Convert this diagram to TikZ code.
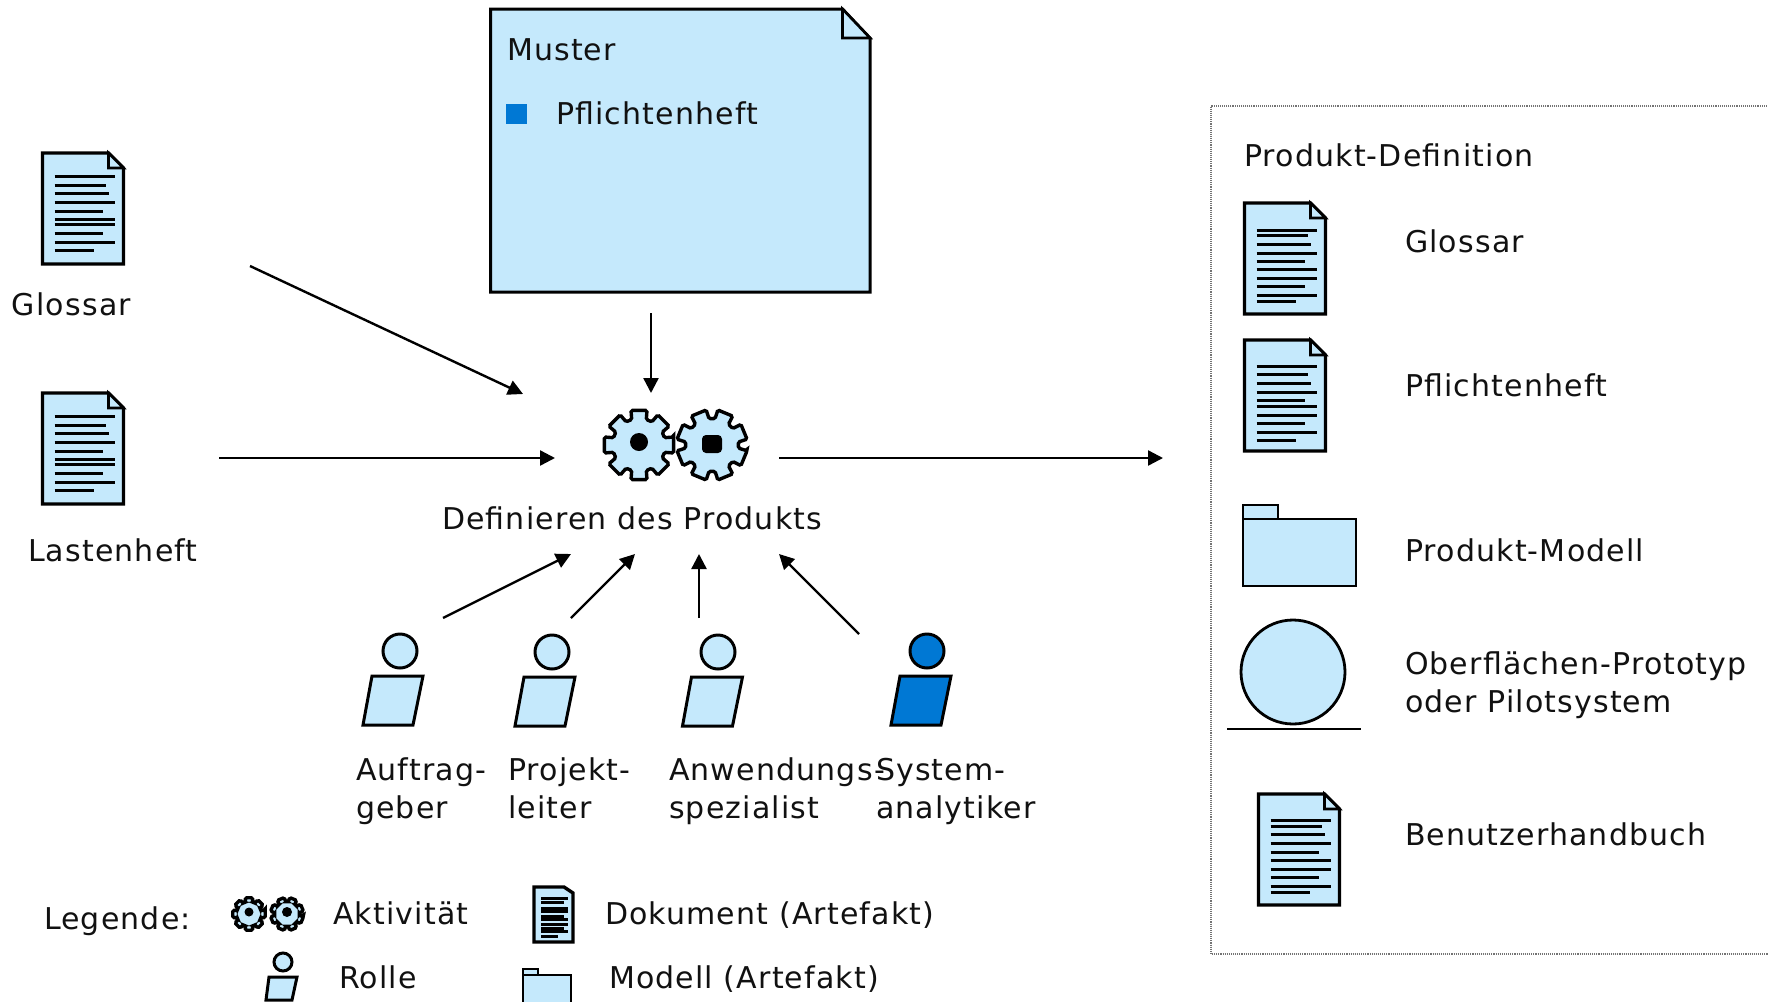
\documentclass[tikz,border=0pt]{standalone}
\usepackage{fontspec}
\setmainfont[LetterSpace=3.9]{DejaVu Sans}
\usetikzlibrary{arrows.meta}
\definecolor{lb}{HTML}{C5E9FC}
\definecolor{db}{HTML}{0078D4}
\definecolor{tx}{HTML}{111111}
\def\lLeft{23/72,32/63,40/66,49/72,58/60,66/72,71/72,80/60,89/72,97/51}
\def\lGl{27/72,32/63,41/66,50/72,58/60,66/72,75/72,83/60,92/72,98/51}
\def\lPf{26/72,34/63,43/66,52/72,60/60,66/72,75/72,83/60,92/72,100/51}
\def\lBh{26/72,32/63,40/66,49/72,58/60,66/72,75/72,83/60,92/72,98/51}
\tikzset{
  x=1pt,y=-1pt,
  lbl/.style={inner sep=0pt,outer sep=0pt,anchor=base west,align=left,text=tx,yshift=0.1pt,font=\fontsize{30}{38.5}\selectfont},
  ic/.style={draw=black,line width=3pt,fill=lb,line join=miter},
  arr/.style={draw=black,line width=2.4pt,-{Triangle[length=15pt,width=15pt]}},
  pics/docicon/.style={code={
    \path[ic,line width=3.2pt] (0,0) -- (66,0) -- (81,15) -- (81,111) -- (0,111) -- cycle;
    \path[ic,line width=2.6pt] (66,0) -- (66,15) -- (81,15) -- cycle;
    \foreach \yy/\ee in #1
      \draw[line width=3pt] (12,\yy) -- (\ee,\yy);
  }},
  pics/foldericon/.style={code={
    \path[ic,line width=2.2pt] (0,0) rectangle (35,14);
    \path[ic,line width=2.2pt] (0,14) rectangle (113,81);
  }},
  pics/rolebody/.style={code={
    \path[ic,fill=#1] (-28,25) -- (23,25) -- (13,74) -- (-37,74) -- cycle;
  }},
  pics/rolebody/.default=lb,
  pics/gearicon/.style={code={
    \path[ic,line width=3.4pt,rounded corners=1.5pt] (#1-13:35.5)
      \foreach \a in {0,45,...,315}{
        -- (\a+#1-13:35.5) -- (\a+#1+13:35.5) -- (\a+#1+16:26.5) -- (\a+#1+29:26.5)
      } -- cycle;
  }},
}
\begin{document}
\begin{tikzpicture}
\clip (0,0) rectangle (1768,1001);
\fill[white] (0,0) rectangle (1768,1001);

% Muster
\path[ic] (490.5,9) -- (842.5,9) -- (870,38) -- (870,292) -- (490.5,292) -- cycle;
\path[ic,line width=2.6pt] (842.5,9) -- (842.5,38) -- (870,38) -- cycle;
\node[lbl] (muster) at (507,61) {Muster};
\fill[db] (506,104) rectangle (527,124);
\node[lbl] (pfl) at (556,125) {Pflichtenheft};

% inputs
\pic at (42.5,153) {docicon=\lLeft};
\node[lbl] (glossar) at (12,316) {Glossar};
\pic at (42.5,393) {docicon=\lLeft};
\node[lbl] (lasten) at (28,562) {Lastenheft};

% activity
\pic at (639,445) {gearicon=0};
\fill (639,442) circle[radius=9];
\pic at (712,445) {gearicon=22.5};
\fill[rounded corners=4pt] (702,435) rectangle (722,453);
\node[lbl] (act) at (442,530) {Definieren des Produkts};

% roles
\path[ic] (400,651) circle[radius=17];
\pic at (400,651) {rolebody};
\path[ic] (552,652) circle[radius=17];
\pic at (552,652) {rolebody};
\path[ic] (718,652) circle[radius=17];
\pic at (719.5,652) {rolebody};
\path[ic,fill=db] (927,651) circle[radius=17];
\pic at (928,651) {rolebody=db};
\node[lbl] (r1) at (356,819) {Auftrag-\\geber};
\node[lbl] (r2) at (508,819) {Projekt-\\leiter};
\node[lbl] (r3) at (669,819) {Anwendungs-\\spezialist};
\node[lbl] (r4) at (876,819) {System-\\analytiker};

% arrows
\coordinate (a1s) at (250,266); \coordinate (a1e) at (523,394);
\coordinate (a2s) at (219,458); \coordinate (a2e) at (555,458);
\coordinate (a3s) at (651,313); \coordinate (a3e) at (651,393);
\coordinate (a4s) at (779,458); \coordinate (a4e) at (1163,458);
\coordinate (a5s) at (443,618); \coordinate (a5e) at (571,554);
\coordinate (a6s) at (571,618); \coordinate (a6e) at (635,554);
\coordinate (a7s) at (699,618); \coordinate (a7e) at (699,554);
\coordinate (a8s) at (859,634); \coordinate (a8e) at (779,554);
\foreach \k in {1,...,8} \draw[arr] (a\k s) -- (a\k e);

% product definition
\draw[black!55,line width=1.1pt,densely dotted] (1790,106) -- (1211,106) -- (1211,954) -- (1790,954);
\node[lbl] (pd) at (1244,167) {Produkt-Definition};
\pic at (1244.5,203) {docicon=\lGl};
\node[lbl] (g2) at (1405,253) {Glossar};
\pic at (1244.5,340) {docicon=\lPf};
\node[lbl] (p2) at (1405,397) {Pflichtenheft};
\pic at (1243,505) {foldericon};
\node[lbl] (pm) at (1405,562) {Produkt-Modell};
\path[ic,line width=2.8pt] (1293,672) circle[radius=52];
\draw[line width=2.8pt] (1227,729) -- (1361,729);
\node[lbl] (op) at (1405,713) {Oberflächen-Prototyp\\oder Pilotsystem};
\pic at (1258.5,794) {docicon=\lBh};
\node[lbl] (bh) at (1405,846) {Benutzerhandbuch};

% legend
\node[lbl] (leg) at (44,930) {Legende:};
\pic[scale=.47] at (249,914) {gearicon=0};
\fill (249,912) circle[radius=4.5];
\pic[scale=.47] at (287,914) {gearicon=22.5};
\fill (287,912) circle[radius=5];
\node[lbl] (akt) at (333,925) {Aktivität};
\path[ic,line width=3.4pt] (534,887) -- (564,887) -- (573,893) -- (573,942) -- (534,942) -- cycle;
\foreach \yy/\ee in {898/568,902/564,908/568,911/568,916/564,919/568,924/568,928/564,931/568,936/558}
  \draw[line width=3pt] (541,\yy) -- (\ee,\yy);
\node[lbl] (dok) at (605,925) {Dokument (Artefakt)};
\path[ic] (283,962) circle[radius=9];
\path[ic] (269,977) -- (297,977) -- (292,1000) -- (266,1000) -- cycle;
\node[lbl] (rol) at (339,989) {Rolle};
\path[ic,line width=2.2pt] (523,969) rectangle (538,975);
\path[ic,line width=2.2pt] (523,975) rectangle (571,1010);
\node[lbl] (mod) at (609,989) {Modell (Artefakt)};
\end{tikzpicture}
\end{document}
